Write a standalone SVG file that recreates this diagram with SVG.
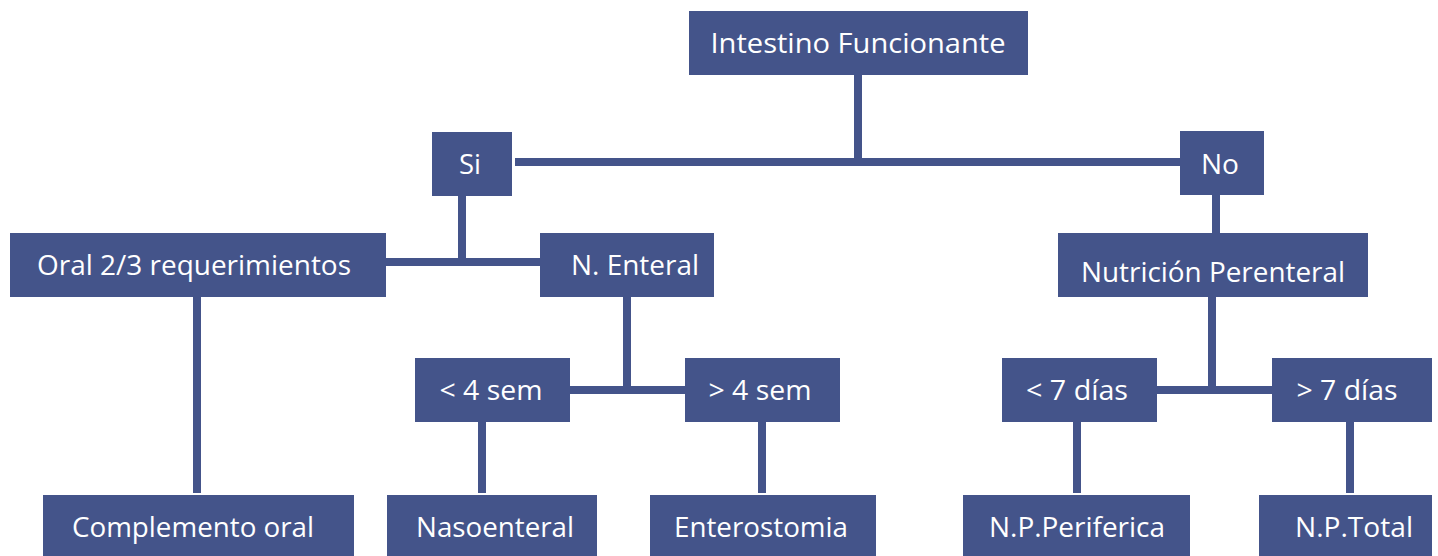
<svg xmlns="http://www.w3.org/2000/svg" width="1438" height="556" viewBox="0 0 1438 556">
<style>
.box{fill:#44548a}
.t{fill:#ffffff;font-family:"Open Sans","Noto Sans","Liberation Sans",sans-serif;font-size:27px;text-anchor:middle}
.c line{stroke:#44548a;stroke-width:8}
</style>
<rect width="1438" height="556" fill="#ffffff"/>
<g class="c" id="connectors">
<line x1="858" y1="75" x2="858" y2="162"/>
<line x1="515" y1="162" x2="1180" y2="162"/>
<line x1="462" y1="196" x2="462" y2="262"/>
<line x1="386" y1="262" x2="540" y2="262"/>
<line x1="1216" y1="195" x2="1216" y2="233"/>
<line x1="197" y1="297" x2="197" y2="493"/>
<line x1="627" y1="297" x2="627" y2="390"/>
<line x1="570" y1="390" x2="685" y2="390"/>
<line x1="1212" y1="297" x2="1212" y2="390"/>
<line x1="1157" y1="390" x2="1272" y2="390"/>
<line x1="482" y1="422" x2="482" y2="493"/>
<line x1="762" y1="422" x2="762" y2="493"/>
<line x1="1077" y1="422" x2="1077" y2="493"/>
<line x1="1350" y1="422" x2="1350" y2="493"/>
</g>
<g id="n-intestino"><rect class="box" x="689" y="11" width="339" height="64"/><text class="t" x="858" y="53" textLength="295" lengthAdjust="spacingAndGlyphs">Intestino Funcionante</text></g>
<g id="n-si"><rect class="box" x="432" y="132" width="80" height="64"/><text class="t" x="470" y="174" textLength="22" lengthAdjust="spacingAndGlyphs">Si</text></g>
<g id="n-no"><rect class="box" x="1180" y="131" width="84" height="64"/><text class="t" x="1220" y="174" textLength="38" lengthAdjust="spacingAndGlyphs">No</text></g>
<g id="n-oral"><rect class="box" x="10" y="233" width="376" height="64"/><text class="t" x="194" y="275" textLength="314" lengthAdjust="spacingAndGlyphs">Oral 2/3 requerimientos</text></g>
<g id="n-enteral"><rect class="box" x="540" y="233" width="174" height="64"/><text class="t" x="635" y="275" textLength="128" lengthAdjust="spacingAndGlyphs">N. Enteral</text></g>
<g id="n-parenteral"><rect class="box" x="1058" y="233" width="310" height="64"/><text class="t" x="1213" y="282" textLength="264" lengthAdjust="spacingAndGlyphs">Nutrición Perenteral</text></g>
<g id="n-lt4"><rect class="box" x="415" y="358" width="155" height="64"/><text class="t" x="491" y="400" textLength="103" lengthAdjust="spacingAndGlyphs">&lt; 4 sem</text></g>
<g id="n-gt4"><rect class="box" x="685" y="358" width="155" height="64"/><text class="t" x="760" y="400" textLength="103" lengthAdjust="spacingAndGlyphs">&gt; 4 sem</text></g>
<g id="n-lt7"><rect class="box" x="1002" y="358" width="155" height="64"/><text class="t" x="1077" y="400" textLength="102" lengthAdjust="spacingAndGlyphs">&lt; 7 días</text></g>
<g id="n-gt7"><rect class="box" x="1272" y="358" width="160" height="64"/><text class="t" x="1347" y="400" textLength="101" lengthAdjust="spacingAndGlyphs">&gt; 7 días</text></g>
<g id="n-complemento"><rect class="box" x="43" y="495" width="311" height="61"/><text class="t" x="193" y="537" textLength="242" lengthAdjust="spacingAndGlyphs">Complemento oral</text></g>
<g id="n-nasoenteral"><rect class="box" x="387" y="495" width="210" height="61"/><text class="t" x="495" y="537" textLength="158" lengthAdjust="spacingAndGlyphs">Nasoenteral</text></g>
<g id="n-enterostomia"><rect class="box" x="650" y="495" width="226" height="61"/><text class="t" x="761" y="537" textLength="174" lengthAdjust="spacingAndGlyphs">Enterostomia</text></g>
<g id="n-periferica"><rect class="box" x="963" y="495" width="227" height="61"/><text class="t" x="1077" y="537" textLength="176" lengthAdjust="spacingAndGlyphs">N.P.Periferica</text></g>
<g id="n-total"><rect class="box" x="1259" y="495" width="173" height="61"/><text class="t" x="1354" y="537" textLength="118" lengthAdjust="spacingAndGlyphs">N.P.Total</text></g>
</svg>
